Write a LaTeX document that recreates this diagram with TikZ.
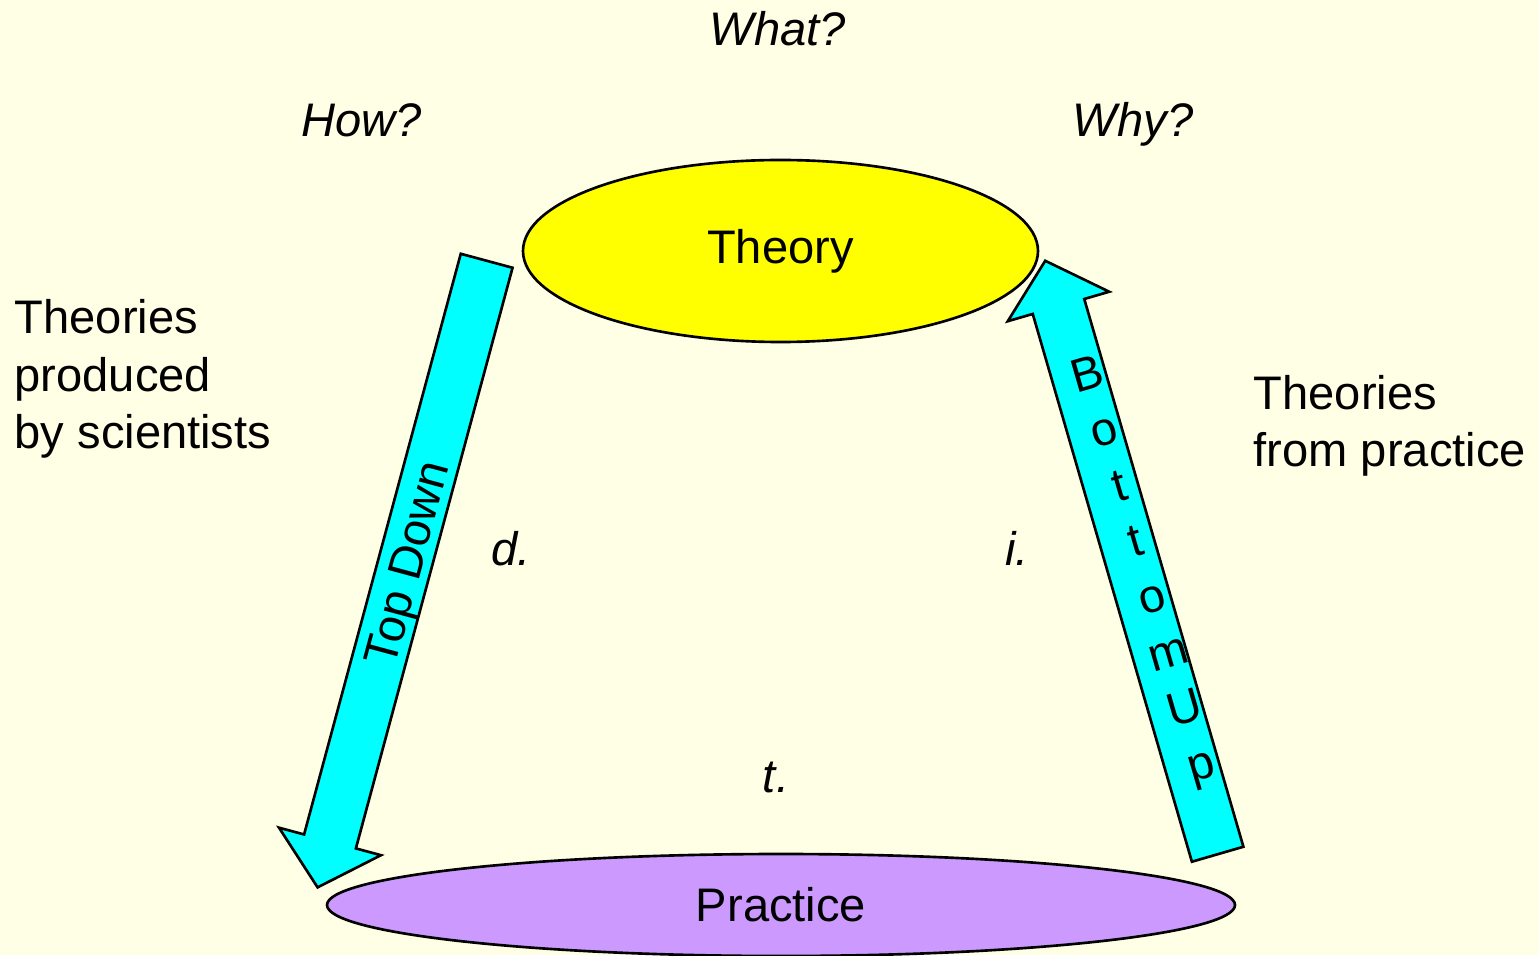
\documentclass[tikz,border=0pt]{standalone}
\usepackage{fontspec}
\setmainfont{Liberation Sans}
\usepackage{tikz}
\usetikzlibrary{shapes.geometric,shapes.arrows}
\definecolor{bgyellow}{RGB}{255,255,229}
\definecolor{theoryyellow}{RGB}{255,255,0}
\definecolor{practiceviolet}{RGB}{204,153,255}
\definecolor{arrowcyan}{RGB}{0,255,255}

\begin{document}
\begin{tikzpicture}[
    font=\fontsize{13.4}{16.5}\selectfont,
    oval/.style={ellipse, draw=black, line width=0.75pt, inner sep=0pt},
    blockarr/.style={single arrow, draw=black, line width=0.75pt, fill=arrowcyan,
      minimum width=10.3mm, single arrow head extend=2.6mm, single arrow tip angle=96, inner sep=0pt},
    ask/.style={font=\fontsize{13.4}{16.5}\selectfont\itshape, anchor=base},
    side/.style={align=left, anchor=base west, inner sep=0pt},
  ]
    \fill[bgyellow] (0,0) rectangle (15.39,9.55);
    \useasboundingbox (0,0) rectangle (15.39,9.55);

    \node[ask] (what) at (7.78,9.09) {What?};
    \node[ask] (how)  at (3.62,8.18) {How?};
    \node[ask] (why)  at (11.33,8.18) {Why?};

    \node[oval, fill=theoryyellow, minimum width=51.5mm, minimum height=18.2mm] (theory) at (7.805,7.04) {Theory};
    \node[oval, fill=practiceviolet, minimum width=90.8mm, minimum height=10.2mm] (practice) at (7.81,0.50) {Practice};

    \node[blockarr, rotate=74.9, shape border rotate=180, minimum height=64.9mm, anchor=tail,
      text height=4.3mm, text depth=0.8mm] (topdown) at (4.87,6.955) {Top Down};
    \node[blockarr, rotate=106.2, minimum height=61.8mm, anchor=tail,
      text height=2.55mm, text depth=2.55mm] (bottomup) at (12.18,0.995) {};
    \node[rotate=16.2, align=center, inner sep=0pt] (bulabel) at (11.45,3.82) {B\\o\\t\\t\\o\\m\\U\\p};

    \node[side] (sci)  at (0.14,5.06) {Theories\\produced\\by scientists};
    \node[side] (prac) at (12.53,4.88) {Theories\\from practice};

    \node[ask] (d) at (5.11,3.90) {d.};
    \node[ask] (i) at (10.17,3.90) {i.};
    \node[ask] (t) at (7.76,1.63) {t.};
\end{tikzpicture}
\end{document}
